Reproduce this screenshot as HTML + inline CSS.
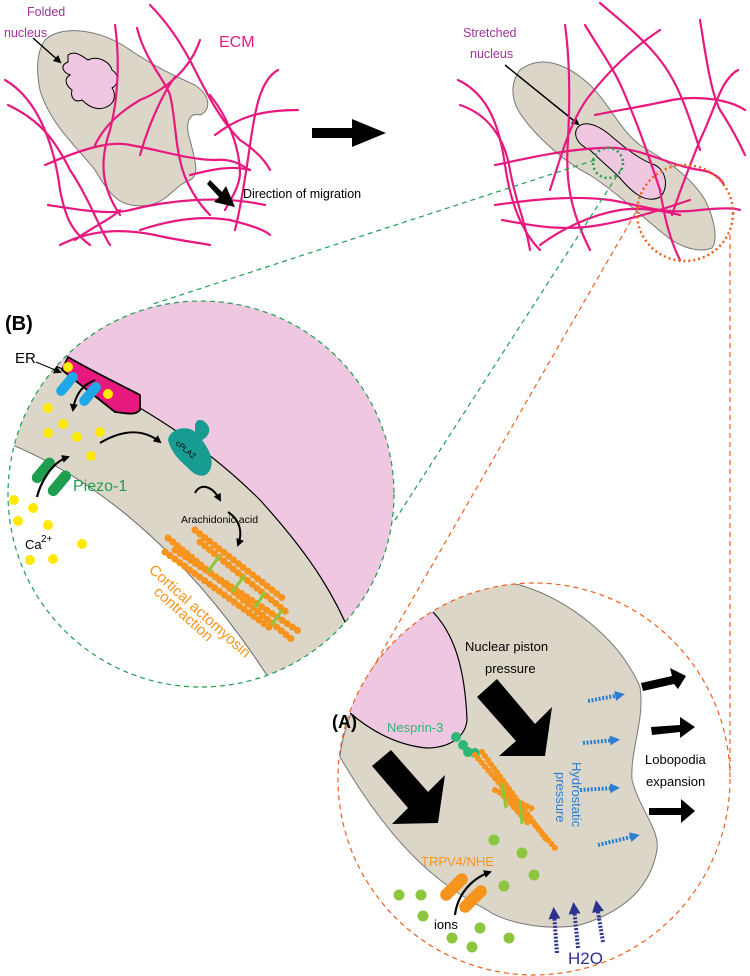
<!DOCTYPE html>
<html><head><meta charset="utf-8"><style>
html,body{margin:0;padding:0;background:#fff}
svg{display:block;font-family:"Liberation Sans",sans-serif}
</style></head><body>
<svg width="750" height="976" viewBox="0 0 750 976" xmlns="http://www.w3.org/2000/svg">
<defs>
<marker id="ah" markerWidth="8" markerHeight="8" refX="6" refY="4" orient="auto" markerUnits="userSpaceOnUse"><path d="M0,0 L8,4 L0,8 Z" fill="#000"/></marker>
<marker id="bh" markerWidth="10" markerHeight="10" refX="5" refY="5" orient="auto" markerUnits="userSpaceOnUse"><path d="M0,0 L10,5 L0,10 Z" fill="#2a7fd0"/></marker>
<marker id="nh" markerWidth="12" markerHeight="12" refX="6" refY="6" orient="auto" markerUnits="userSpaceOnUse"><path d="M0,0 L12,6 L0,12 Z" fill="#2b3290"/></marker>
<clipPath id="cB"><circle cx="201" cy="494" r="193"/></clipPath>
<clipPath id="cA"><circle cx="534" cy="779" r="196"/></clipPath>
</defs>

<!-- top left cell -->
<path d="M45,40 C60,25 100,28 130,50 C160,70 180,78 195,85 C210,95 212,110 200,115 C188,112 185,125 190,140 C195,160 200,175 190,180 C175,185 170,200 150,205 C120,210 110,195 95,170 C80,150 50,125 40,90 C35,65 38,50 45,40 Z" fill="#dcd6c8" stroke="#777" stroke-width="1"/>
<path d="M68,55 C75,50 82,56 88,60 C98,55 110,62 112,70 C120,75 118,85 112,88 C115,92 116,100 110,105 C100,112 90,108 82,100 C75,103 70,98 72,90 C65,85 64,78 70,75 C62,72 60,65 68,62 Z" fill="#efc7e0" stroke="#000" stroke-width="1"/>
<line x1="33" y1="38" x2="60" y2="62" stroke="#000" stroke-width="1.5" marker-end="url(#ah)"/>
<g fill="none" stroke="#e8197e" stroke-width="2.2" stroke-linecap="round">
<path d="M5,80 C40,100 55,150 60,190 C65,215 70,230 90,245"/>
<path d="M8,105 C40,120 55,140 70,170 C90,200 100,230 110,245"/>
<path d="M45,165 C80,150 110,140 130,145 C160,150 190,160 215,160 C235,158 245,168 250,170"/>
<path d="M115,25 C120,60 118,100 110,130 C100,160 100,185 120,215"/>
<path d="M137,28 C145,60 165,80 170,95 C175,115 175,140 180,160 C185,185 200,205 210,215"/>
<path d="M150,5 C170,25 185,50 195,70 C205,90 220,120 240,140 C255,150 265,160 270,170"/>
<path d="M200,40 C190,70 165,90 140,100 C120,112 105,125 95,145"/>
<path d="M175,77 C165,90 150,120 140,155"/>
<path d="M210,95 C230,120 240,150 240,175 C238,190 230,200 225,210"/>
<path d="M215,135 C235,120 255,110 298,110"/>
<path d="M190,175 C210,170 230,165 250,170"/>
<path d="M48,205 C80,210 110,215 130,210 C170,200 220,195 265,205"/>
<path d="M278,70 C260,80 255,110 250,145 C245,180 240,210 235,230"/>
<path d="M140,230 C170,220 200,215 230,220 C250,225 265,230 270,235"/>
<path d="M60,245 C90,230 120,228 155,235 C175,240 195,242 210,245"/>
<path d="M75,240 C90,228 110,220 120,210"/>
</g>
<path d="M210,180 L222,192 L226,186 L235,207 L214,202 L219,197 L207,184 Z" fill="#000"/>
<text x="27" y="16" font-size="12.5" fill="#a0339a">Folded</text>
<text x="4" y="37" font-size="12.5" fill="#a0339a">nucleus</text>
<text x="219" y="47" font-size="16" fill="#e8197e">ECM</text>
<text x="243" y="198" font-size="12.5" fill="#000">Direction of migration</text>
<!-- big arrow -->
<path d="M312,128 L352,128 L352,119 L386,133 L352,147 L352,138 L312,138 Z" fill="#000"/>

<!-- top right cell -->
<path d="M520,70 C540,55 565,62 590,85 C610,105 620,130 640,145 C665,160 690,175 705,200 C715,220 718,240 712,248 C700,253 680,248 665,235 C640,215 620,195 590,175 C560,160 530,130 518,110 C510,95 512,80 520,70 Z" fill="#dcd6c8" stroke="#777" stroke-width="1"/>
<path d="M578,127 C585,120 598,125 610,135 C625,148 640,160 655,165 C668,172 668,190 660,197 C645,205 630,190 620,178 C610,168 600,160 590,150 C578,145 572,135 578,127 Z" fill="#efc7e0" stroke="#000" stroke-width="1"/>
<line x1="505" y1="65" x2="578" y2="124" stroke="#000" stroke-width="1.5" marker-end="url(#ah)"/>
<text x="463" y="37" font-size="12.5" fill="#a0339a">Stretched</text>
<text x="470" y="58" font-size="12.5" fill="#a0339a">nucleus</text>
<g fill="none" stroke="#e8197e" stroke-width="2.2" stroke-linecap="round">
<path d="M458,80 C490,95 500,130 505,165 C510,200 520,230 540,250"/>
<path d="M460,105 C490,115 505,140 510,170 C515,200 525,220 530,250"/>
<path d="M495,165 C520,160 560,150 600,148 C640,145 665,165 700,170 C715,172 722,180 724,185"/>
<path d="M565,25 C570,60 570,100 568,140 C565,180 570,210 590,250"/>
<path d="M585,25 C600,50 615,70 625,95 C640,130 650,160 660,190 C665,220 670,240 680,260"/>
<path d="M600,3 C620,20 645,40 660,60 C680,85 690,120 700,150"/>
<path d="M660,30 C630,50 610,70 590,95 C570,120 560,160 550,190"/>
<path d="M738,70 C720,80 715,110 700,140 C690,165 680,190 672,215"/>
<path d="M700,20 C705,50 710,90 720,110 C730,125 738,140 745,155"/>
<path d="M595,115 C620,110 650,105 672,100 C700,95 730,100 745,110"/>
<path d="M495,205 C530,200 570,195 610,200 C640,205 665,215 700,210 C720,208 735,208 740,210"/>
<path d="M502,220 C530,225 560,232 600,225 C630,220 660,210 690,200"/>
<path d="M540,245 C560,230 590,215 620,210 C640,207 660,210 680,215"/>
</g>
<circle cx="608" cy="163" r="15" fill="none" stroke="#1f9e50" stroke-width="2.5" stroke-dasharray="2 3"/>
<circle cx="685" cy="213" r="48" fill="none" stroke="#ef5f1e" stroke-width="2.5" stroke-dasharray="2 3"/>

<!-- connector dashes -->
<g fill="none" stroke-width="1.2" stroke-dasharray="5 4">
<line x1="595" y1="160" x2="150" y2="305" stroke="#1f9e50"/>
<line x1="622" y1="168" x2="395" y2="520" stroke="#1f9e50"/>
<line x1="640" y1="205" x2="360" y2="690" stroke="#ef5f1e"/>
<line x1="730" y1="235" x2="730" y2="775" stroke="#ef5f1e"/>
</g>

<!-- Panel B -->
<g clip-path="url(#cB)">
<rect x="0" y="290" width="400" height="400" fill="#fff"/>
<path d="M0,440 C80,470 180,540 270,680 L420,680 L420,290 L0,290 Z" fill="#dcd6c8"/>
<path d="M40,360 C120,390 200,440 260,500 C310,555 340,600 360,660 L420,660 L420,290 L40,290 Z" fill="#efc7e0"/>
<path d="M40,360 C120,390 200,440 260,500 C310,555 340,600 360,660" fill="none" stroke="#000" stroke-width="1.2"/>
<path d="M0,440 C80,470 180,540 270,680" fill="none" stroke="#666" stroke-width="1"/>
</g>
<circle cx="201" cy="494" r="193" fill="none" stroke="#1f9e50" stroke-width="1.2" stroke-dasharray="5 4"/>
<!-- ER -->
<path d="M68,357 C90,370 115,382 140,395 L140,410 C135,416 125,413 115,412 L62,370 Z" fill="#e8197e" stroke="#000" stroke-width="1.8"/>
<circle cx="68" cy="367" r="5" fill="#ffea00"/><circle cx="108" cy="394" r="5" fill="#ffea00"/>
<rect x="62" y="370" width="10" height="28" rx="5" fill="#1fa8e8" transform="rotate(40 67 384)"/>
<rect x="85" y="380" width="10" height="28" rx="5" fill="#1fa8e8" transform="rotate(40 90 394)"/>
<path d="M95,380 C82,385 75,395 73,410" fill="none" stroke="#000" stroke-width="2" marker-end="url(#ah)"/>
<line x1="36" y1="362" x2="60" y2="372" stroke="#000" stroke-width="1" marker-end="url(#ah)"/>
<text x="15" y="363" font-size="15">ER</text>
<g fill="#ffea00">
<circle cx="48" cy="408" r="5"/><circle cx="63" cy="424" r="5"/><circle cx="48" cy="433" r="5"/><circle cx="77" cy="437" r="5"/><circle cx="100" cy="432" r="5"/><circle cx="91" cy="456" r="5"/>
<circle cx="14" cy="500" r="5"/><circle cx="33" cy="508" r="5"/><circle cx="18" cy="521" r="5"/><circle cx="48" cy="525" r="5"/><circle cx="82" cy="544" r="5"/><circle cx="30" cy="560" r="5"/><circle cx="53" cy="559" r="5"/>
</g>
<rect x="38" y="455" width="11" height="30" rx="5.5" fill="#1f9e50" transform="rotate(40 43 470)"/>
<rect x="54" y="468" width="11" height="30" rx="5.5" fill="#1f9e50" transform="rotate(40 59 483)"/>
<path d="M37,497 C40,485 50,463 68,457" fill="none" stroke="#000" stroke-width="2.2" marker-end="url(#ah)"/>
<text x="73" y="491" font-size="16" fill="#1f9e50">Piezo-1</text>
<text x="25" y="549" font-size="13">Ca</text><text x="41" y="542" font-size="10">2+</text>
<path d="M100,443 C125,428 145,430 160,442" fill="none" stroke="#000" stroke-width="2" marker-end="url(#ah)"/>
<path d="M168,440 C170,428 188,425 195,432 L195,425 C196,420 200,418 205,422 C212,428 210,436 202,440 C208,448 215,460 210,470 C205,480 195,475 190,470 C182,462 172,455 168,440 Z" fill="#189c92"/>
<text x="175" y="444" font-size="8" fill="#000" transform="rotate(40 175 444)">cPLA2</text>
<path d="M195,493 C200,483 212,485 220,500" fill="none" stroke="#000" stroke-width="2" marker-end="url(#ah)"/>
<text x="181" y="523" font-size="10.5">Arachidonic acid</text>
<path d="M228,512 C240,520 243,532 238,545" fill="none" stroke="#000" stroke-width="2" marker-end="url(#ah)"/>
<g stroke="#f7941d" stroke-width="7" stroke-linecap="round" stroke-dasharray="0.1 6" fill="none">
<path d="M168,538 L295,642"/><path d="M175,550 L300,632"/><path d="M200,542 L290,615"/><path d="M165,552 L270,628"/><path d="M195,530 L285,600"/>
</g>
<g stroke="#8cc63f" stroke-width="3">
<line x1="220" y1="555" x2="208" y2="572"/><line x1="245" y1="575" x2="232" y2="592"/><line x1="265" y1="592" x2="255" y2="608"/><line x1="282" y1="610" x2="272" y2="625"/>
</g>
<text x="148" y="571" font-size="15" fill="#f7941d" transform="rotate(42 148 571)">Cortical actomyosin</text>
<text x="153" y="593" font-size="15" fill="#f7941d" transform="rotate(42 153 593)">contraction</text>
<text x="5" y="330" font-size="20" font-weight="bold">(B)</text>

<!-- Panel A -->
<g clip-path="url(#cA)">
<path d="M340,757 C345,700 400,620 435,600 C470,585 500,580 520,585 C570,600 620,640 640,687 C645,720 630,750 632,780 C640,810 660,830 657,850 C650,890 620,913 580,925 C540,932 500,920 487,910 C450,890 400,860 340,757 Z" fill="#dcd6c8" stroke="#777" stroke-width="1"/>
<path d="M433,612 C455,635 465,670 467,720 C465,740 445,748 427,748 C395,745 370,730 350,713 L300,713 L300,560 L433,560 Z" fill="#efc7e0"/>
<path d="M433,612 C455,635 465,670 467,720 C465,740 445,748 427,748 C395,745 370,730 350,713" fill="none" stroke="#000" stroke-width="1.2"/>
</g>
<circle cx="534" cy="779" r="196" fill="none" stroke="#ef5f1e" stroke-width="1.2" stroke-dasharray="5 4"/>
<!-- big black arrows -->
<path d="M477,697 L497,679 L535,724 L552,707 L545,756 L499,756 L516,741 Z" fill="#000"/>
<path d="M372,766 L391,750 L428,792 L445,775 L438,823 L392,824 L408,808 Z" fill="#000"/>
<g fill="#000">
<path d="M641,683 L672,676 L670,668 L686,676 L678,689 L674,684 L643,691 Z"/>
<path d="M651,727 L680,725 L680,717 L695,727 L680,738 L680,732 L652,735 Z"/>
<path d="M649,808 L681,808 L681,799 L695,811 L681,823 L681,815 L649,815 Z"/>
</g>
<text x="645" y="764" font-size="13">Lobopodia</text>
<text x="646" y="786" font-size="13">expansion</text>
<text x="465" y="651" font-size="13">Nuclear piston</text>
<text x="485" y="673" font-size="13">pressure</text>
<text x="332" y="728" font-size="18" font-weight="bold">(A)</text>
<text x="387" y="732" font-size="13" fill="#2bb673">Nesprin-3</text>
<g fill="#2bb673"><circle cx="456" cy="737" r="5"/><circle cx="463" cy="745" r="5"/><circle cx="468" cy="752" r="5"/><circle cx="475" cy="753" r="5"/></g>
<g stroke="#f7941d" stroke-width="6" stroke-linecap="round" stroke-dasharray="0.1 5" fill="none">
<path d="M475,755 L555,848"/><path d="M482,752 L548,842"/><path d="M495,790 L535,810"/><path d="M500,792 L530,825"/>
</g>
<g stroke="#8cc63f" stroke-width="3"><line x1="502" y1="783" x2="506" y2="808"/><line x1="520" y1="800" x2="522" y2="824"/></g>
<text x="0" y="0" font-size="13" fill="#2a7fd0" transform="translate(572,762) rotate(90)">Hydrostatic</text>
<text x="0" y="0" font-size="13" fill="#2a7fd0" transform="translate(556,772) rotate(90)">pressure</text>
<g stroke="#2a7fd0" stroke-width="4" stroke-dasharray="2 1.6" fill="none">
<line x1="588" y1="701" x2="620" y2="695" marker-end="url(#bh)"/>
<line x1="583" y1="743" x2="615" y2="740" marker-end="url(#bh)"/>
<line x1="580" y1="790" x2="615" y2="788" marker-end="url(#bh)"/>
<line x1="598" y1="845" x2="635" y2="836" marker-end="url(#bh)"/>
</g>
<g fill="#8cc63f">
<circle cx="494" cy="840" r="5.5"/><circle cx="522" cy="853" r="5.5"/><circle cx="534" cy="875" r="5.5"/><circle cx="504" cy="886" r="5.5"/>
<circle cx="399" cy="895" r="5.5"/><circle cx="421" cy="895" r="5.5"/><circle cx="423" cy="916" r="5.5"/><circle cx="480" cy="928" r="5.5"/><circle cx="452" cy="938" r="5.5"/><circle cx="472" cy="947" r="5.5"/><circle cx="509" cy="938" r="5.5"/>
</g>
<text x="421" y="866" font-size="13" fill="#f7941d">TRPV4/NHE</text>
<rect x="448" y="870" width="12" height="34" rx="6" fill="#f7941d" transform="rotate(45 454 887)"/>
<rect x="467" y="882" width="12" height="34" rx="6" fill="#f7941d" transform="rotate(45 473 899)"/>
<path d="M455,915 C457,898 468,880 490,872" fill="none" stroke="#000" stroke-width="2.2" marker-end="url(#ah)"/>
<text x="434" y="929" font-size="13">ions</text>
<g stroke="#2b3290" stroke-width="4" stroke-dasharray="2 1.6" fill="none">
<line x1="557" y1="953" x2="554" y2="913" marker-end="url(#nh)"/>
<line x1="578" y1="948" x2="574" y2="908" marker-end="url(#nh)"/>
<line x1="603" y1="942" x2="597" y2="906" marker-end="url(#nh)"/>
</g>
<text x="568" y="964" font-size="17" fill="#2b3290">H2O</text>
</svg>
</body></html>
